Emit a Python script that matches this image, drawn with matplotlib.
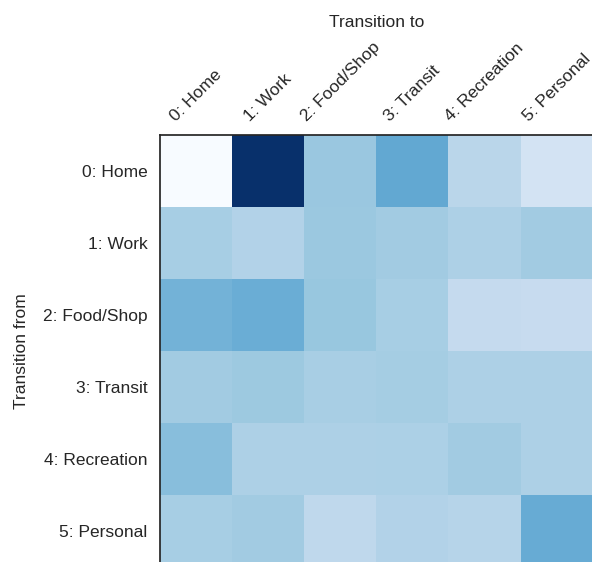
import numpy as np
import matplotlib
matplotlib.use("Agg")
import matplotlib.pyplot as plt

# activity categories and the transition-matrix intensities between them
states = ["0: Home", "1: Work", "2: Food/Shop", "3: Transit", "4: Recreation", "5: Personal"]
row_home = [0.00, 1.00, 0.385, 0.527, 0.288, 0.180]
row_work = [0.344, 0.309, 0.382, 0.362, 0.325, 0.362]
row_food = [0.480, 0.500, 0.390, 0.344, 0.250, 0.243]
row_transit = [0.360, 0.377, 0.340, 0.353, 0.325, 0.325]
row_recreation = [0.426, 0.325, 0.325, 0.330, 0.360, 0.325]
row_personal = [0.347, 0.360, 0.270, 0.310, 0.300, 0.510]

matrix = np.array([row_home, row_work, row_food, row_transit, row_recreation, row_personal])

plt.rcParams["font.family"] = ["Liberation Sans", "DejaVu Sans"]
text_color = "#262626"

fig = plt.figure(figsize=(5.92, 5.62), dpi=100)
ax = fig.add_axes([160 / 592, 1 - 567 / 562, 433 / 592, 432 / 562])

ax.imshow(matrix, cmap="Blues", vmin=0, vmax=1, aspect="auto", interpolation="nearest")

ax.xaxis.tick_top()
ax.xaxis.set_label_position("top")
ax.set_xticks(range(len(states)))
ax.set_xticklabels(states, rotation=45, fontsize=12.5, color=text_color)
ax.set_yticks(range(len(states)))
ax.set_yticklabels(states, fontsize=12.5, color=text_color)
ax.tick_params(axis="both", length=0)
ax.tick_params(axis="x", pad=8)
ax.tick_params(axis="y", pad=9)

ax.set_xlabel("Transition to", fontsize=12.5, color=text_color, labelpad=9)
ax.set_ylabel("Transition from", fontsize=12.5, color=text_color, labelpad=10)

for spine in ax.spines.values():
    spine.set_color(text_color)
    spine.set_linewidth(1.25)

fig.savefig("out.png", dpi=100)
